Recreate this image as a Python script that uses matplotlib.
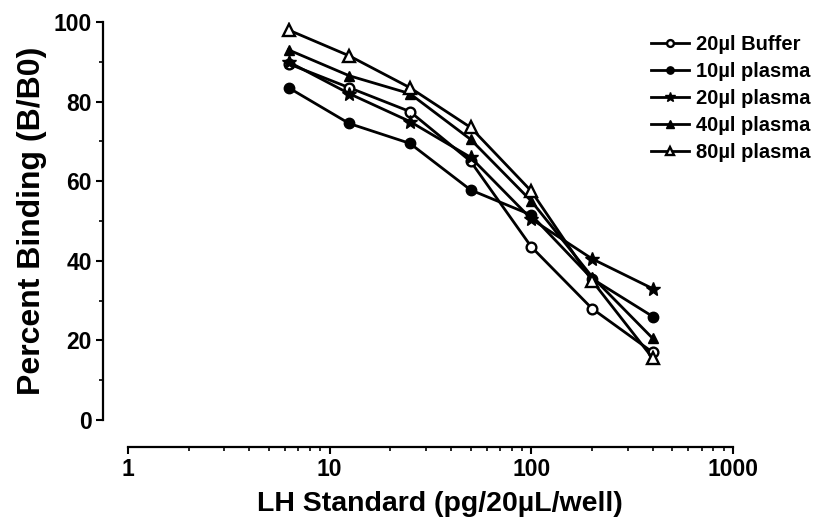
import matplotlib.pyplot as plt
from matplotlib.ticker import LogLocator, NullFormatter, FixedLocator

plt.rcParams['font.family'] = ['Liberation Sans', 'DejaVu Sans']
plt.rcParams['font.weight'] = 'bold'

# LH standard concentrations (pg/20uL/well)
lh_std = [6.25, 12.5, 25, 50, 100, 200, 400]

# percent binding (B/B0)
buffer_20 = [89.5, 83.5, 77.5, 65.0, 43.5, 28.0, 17.0]
plasma_10 = [83.5, 74.5, 69.5, 57.8, 51.5, 35.5, 26.0]
plasma_20 = [90.0, 82.0, 75.0, 66.0, 50.5, 40.5, 33.0]
plasma_40 = [93.0, 86.5, 82.0, 70.5, 55.0, 36.0, 20.5]
plasma_80 = [98.0, 91.5, 83.5, 73.5, 57.5, 35.0, 15.5]

labels = ['20µl Buffer', '10µl plasma', '20µl plasma', '40µl plasma', '80µl plasma']

W, H = 816, 527
fig = plt.figure(figsize=(W / 100, H / 100), dpi=100)
ax = fig.add_axes([128 / W, 107 / H, 605 / W, 398 / H])

lw = 2.0
ax.plot(lh_std, buffer_20, color='black', lw=lw, marker='o', ms=7, mfc='white', mew=1.7, label=labels[0])
ax.plot(lh_std, plasma_10, color='black', lw=lw, marker='o', ms=7.5, label=labels[1])
ax.plot(lh_std, plasma_20, color='black', lw=lw, marker='*', ms=10.5, label=labels[2])
ax.plot(lh_std, plasma_40, color='black', lw=lw, marker='^', ms=7.5, label=labels[3])
ax.plot(lh_std, plasma_80, color='black', lw=lw, marker='^', ms=8.5, mfc='white', mew=1.7, label=labels[4])

ax.set_xscale('log')
ax.set_xlim(1, 1000)
ax.set_ylim(0, 100)

ax.xaxis.set_major_locator(LogLocator(base=10, numticks=10))
ax.xaxis.set_minor_locator(LogLocator(base=10, subs=range(2, 10), numticks=10))
ax.xaxis.set_minor_formatter(NullFormatter())
ax.set_xticks([1, 10, 100, 1000])
ax.set_xticklabels(['1', '10', '100', '1000'])
ax.set_yticks([0, 20, 40, 60, 80, 100])
ax.yaxis.set_minor_locator(FixedLocator([10, 30, 50, 70, 90]))

for s in ['top', 'right']:
    ax.spines[s].set_visible(False)
ax.spines['bottom'].set_position(('outward', 19.5))
ax.spines['left'].set_position(('outward', 18))
for s in ['bottom', 'left']:
    ax.spines[s].set_linewidth(1.6)

ax.tick_params(which='major', length=5, width=1.5, labelsize=16.5, pad=3)
ax.tick_params(which='minor', length=3, width=1.2)

ax.set_xlabel('LH Standard (pg/20µL/well)', fontsize=20.5, fontweight='bold')
ax.xaxis.set_label_coords(0.515, -0.178)
ax.set_ylabel('Percent Binding (B/B0)', fontsize=23, fontweight='bold', labelpad=5)

ax.legend(loc='upper left', bbox_to_anchor=(651 / W, 1 - 35 / H), bbox_transform=fig.transFigure,
          frameon=False, fontsize=14.5, handlelength=1.9, handletextpad=0.35,
          labelspacing=0.4, markerscale=0.7, borderpad=0, borderaxespad=0)

fig.savefig('out.png', dpi=100)
